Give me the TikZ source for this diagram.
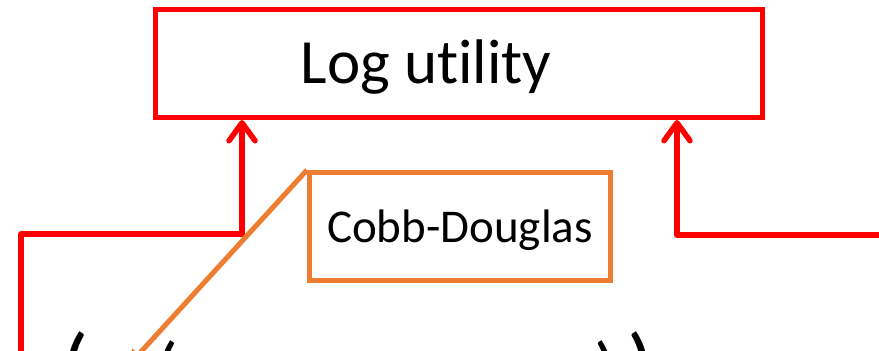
\documentclass[tikz,border=0pt]{standalone}
\usepackage{fontspec}
\setmainfont{Carlito}[Ligatures=NoCommon]
\usetikzlibrary{arrows.meta}
\definecolor{boxred}{HTML}{FF0000}
\definecolor{calloutorange}{HTML}{ED7D31}

\begin{document}
\begin{tikzpicture}[
  x=1pt,
  y=-1pt,
  redbox/.style={draw=boxred, line width=5pt, minimum width=607pt, minimum height=108pt, inner sep=0pt},
  orangebox/.style={draw=calloutorange, line width=5pt, minimum width=301pt, minimum height=108pt,
    inner sep=0pt, text depth=0pt, font=\fontsize{47}{52}\selectfont},
  feed/.style={draw=boxred, line width=5.5pt, line join=round,
    -{Straight Barb[round, length=18pt, width=26pt]}},
  callout/.style={draw=calloutorange, line width=5pt, -{Triangle[length=16pt, width=16pt]}},
  paren/.style={inner sep=0pt, anchor=base west}
]
\useasboundingbox (0,0) rectangle (879,351);
\clip (0,0) rectangle (879,351);

% top box
\node[redbox] (logu) at (459,63.5) {};
\node[inner sep=0pt, anchor=base, font=\fontsize{63}{70}\selectfont] (logutxt)
  at ([xshift=-33pt, yshift=-19.5pt]logu.center) {Log utility};

% callout box
\node[orangebox] (cobb) at (460,226.5) {Cobb-Douglas};

% formula below, cut off at the bottom
\node[paren, font=\fontsize{90}{90}\selectfont] (lbig) at (61,397) {(};
\node[paren, font=\fontsize{75}{75}\selectfont] (lsmall) at (155,395.5) {(};
\node[paren, font=\fontsize{75}{75}\selectfont] (rsmall) at (594.5,395.5) {)};
\node[paren, font=\fontsize{90}{90}\selectfont] (rbig) at (627,397) {)};

% feeds into the top box
\coordinate (lfoot) at (21,370);
\coordinate (lbend) at (242,234);
\draw[feed] (lfoot) |- (lbend) -- (lbend |- logu.south);

\coordinate (rfoot) at (895,235);
\coordinate (rbend) at (677,235);
\draw[feed] (rfoot) -- (rbend) -- (rbend |- logu.south);

% pointer from the callout
\coordinate (cend) at (128,366);
\draw[callout] (cobb.north west) -- (cend);
\end{tikzpicture}
\end{document}
